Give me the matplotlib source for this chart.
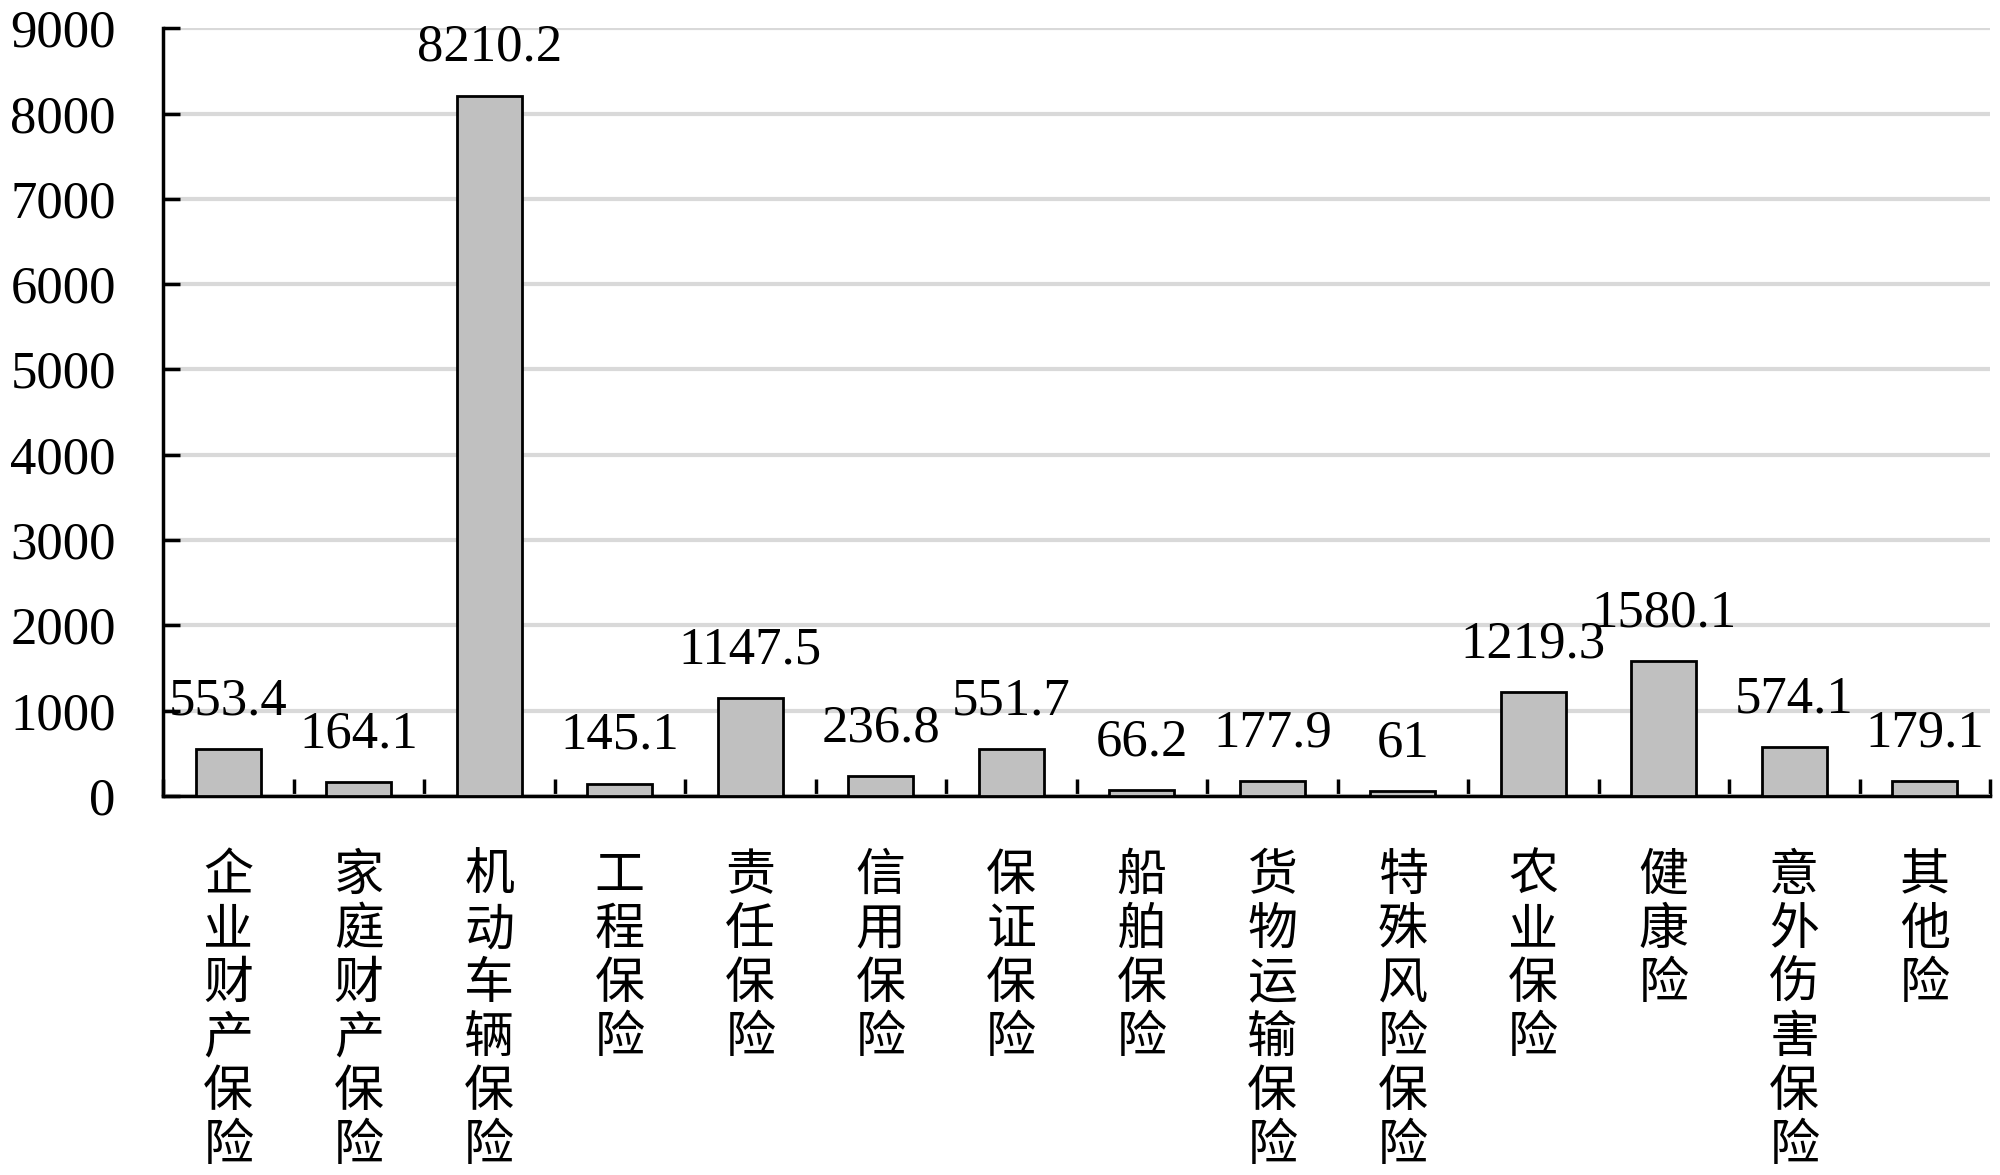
import matplotlib
matplotlib.use('Agg')
import matplotlib.pyplot as plt
import numpy as np

categories = ['企业财产保险', '家庭财产保险', '机动车辆保险', '工程保险', '责任保险',
              '信用保险', '保证保险', '船舶保险', '货物运输保险', '特殊风险保险',
              '农业保险', '健康险', '意外伤害保险', '其他险']
values = [553.4, 164.1, 8210.2, 145.1, 1147.5, 236.8, 551.7, 66.2, 177.9, 61,
          1219.3, 1580.1, 574.1, 179.1]
value_labels = ['553.4', '164.1', '8210.2', '145.1', '1147.5', '236.8', '551.7',
                '66.2', '177.9', '61', '1219.3', '1580.1', '574.1', '179.1']
yticks = [0, 1000, 2000, 3000, 4000, 5000, 6000, 7000, 8000, 9000]

serif = ['Liberation Serif', 'DejaVu Serif']
cjk = ['Noto Sans CJK SC', 'DejaVu Sans']

fig = plt.figure(figsize=(20, 11.75), dpi=100)
ax = fig.add_axes([0.0815, 0.3225, 0.9135, 0.6535])

x = np.arange(len(categories))
ax.bar(x, values, width=0.5, color='#c0c0c0', edgecolor='black', linewidth=2, zorder=3)

for xi, v, lab in zip(x, values, value_labels):
    ax.annotate(lab, (xi, v), xytext=(0, 25), textcoords='offset points',
                ha='center', va='baseline', fontsize=38, family=serif, zorder=4)

ax.set_xlim(-0.5, len(categories) - 0.5)
ax.set_ylim(0, 9000)
ax.set_yticks(yticks)
ax.set_yticklabels([str(t) for t in yticks], family=serif, fontsize=38)
ax.yaxis.grid(True, color='#d9d9d9', linewidth=3, zorder=0)
ax.set_axisbelow(True)

ax.set_xticks(x)
ax.set_xticklabels(['\n'.join(c) for c in categories], family=cjk, fontsize=36,
                   linespacing=1.05, va='top')
ax.set_xticks(np.arange(len(categories) + 1) - 0.5, minor=True)
ax.tick_params(axis='x', which='major', length=0, pad=39)
ax.tick_params(axis='x', which='minor', direction='in', length=12, width=2.5)
ax.tick_params(axis='y', direction='in', length=12, width=2.5, pad=34)

for s in ['top', 'right']:
    ax.spines[s].set_visible(False)
for s in ['left', 'bottom']:
    ax.spines[s].set_linewidth(2.5)

fig.savefig('out.png', dpi=100)
